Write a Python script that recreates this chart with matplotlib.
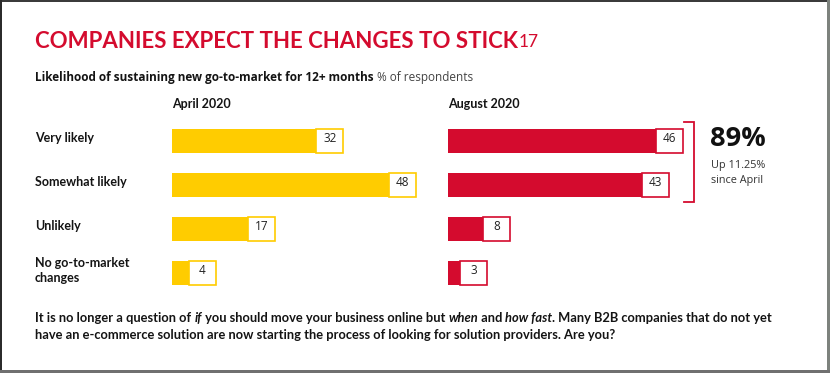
import matplotlib
matplotlib.use("Agg")
import matplotlib.pyplot as plt
from matplotlib.patches import Rectangle
from matplotlib.transforms import blended_transform_factory

categories = ["Very likely", "Somewhat likely", "Unlikely", "No go-to-market\nchanges"]
april = [32, 48, 17, 4]
august = [46, 43, 8, 3]
periods = ["April 2020", "August 2020"]

W, H = 830, 373
YELLOW = "#FFCC00"
RED = "#D40B2E"
DARK = "#141414"

fig = plt.figure(figsize=(W / 100, H / 100), dpi=100)
renderer = fig.canvas.get_renderer()


def px_box(x0, y0, x1, y1):
    return [x0 / W, 1 - y1 / H, (x1 - x0) / W, (y1 - y0) / H]


def ftext(x, y, s, **kw):
    return fig.text(x / W, 1 - y / H, s, **kw)


def rich(x, y, parts, size, target=None):
    # lay out text runs one after the other; optionally scale to a target width
    def place(sz):
        out, cx = [], x
        for s, kw in parts:
            t = ftext(cx, y, s, fontsize=sz, va="center", **kw)
            cx += t.get_window_extent(renderer=renderer).width
            out.append(t)
        return out, cx
    texts, end = place(size)
    if target:
        for t in texts:
            t.remove()
        texts, end = place(size * target / (end - x))
    return end


# frame of the screenshot
for (x0, y0, x1, y1, c) in [(0, 0, W, 2, "#3b3b3b"), (0, 0, 2, H, "#2b2b2b"),
                            (827, 0, W, H, "#7d827d"), (0, 370, W, H, "#707070")]:
    fig.add_artist(Rectangle((x0 / W, 1 - y1 / H), (x1 - x0) / W, (y1 - y0) / H,
                             transform=fig.transFigure, color=c, lw=0))

# title
title = ftext(35, 42, "COMPANIES EXPECT THE CHANGES TO STICK", color=RED, fontsize=16,
              fontweight="bold", va="center", family="Lato")
tw = title.get_window_extent(renderer=renderer).width
title.set_fontsize(16 * 484 / tw)
tend = title.get_window_extent(renderer=renderer).x1
ftext(tend + 1, 42, "17", color=RED, fontsize=12.5, va="center", family="Lato")

# subtitle
rich(35, 77, [("Likelihood of sustaining new go-to-market for 12+ months ",
               dict(fontweight="bold", color=DARK, family="Open Sans")),
              ("% of respondents", dict(color="#444444", family="Open Sans"))],
     8, target=439)

SCALE = 4.55     # pixels per percentage point
BOXW = 27 / SCALE
AXW = 250
lefts = [172, 448]
axes = []
for x0, vals, col, period in zip(lefts, [april, august], [YELLOW, RED], periods):
    ax = fig.add_axes(px_box(x0, 119, x0 + AXW, 295))
    ax.set_xlim(0, AXW / SCALE)
    ax.set_ylim(len(categories) - 0.5, -0.5)
    ax.axis("off")
    ypos = list(range(len(vals)))
    ax.barh(ypos, vals, height=0.545, color=col, lw=0)
    ax.barh(ypos, [BOXW] * len(vals), left=[v - 0.3 for v in vals], height=0.545,
            facecolor="white", edgecolor=col, lw=1.2)
    for y, v in zip(ypos, vals):
        ax.text(v - 0.3 + BOXW / 2, y - 0.05, str(v), ha="center", va="center",
                fontsize=8.5, color="#222222", family="Open Sans")
    ftext(x0, 104, period, fontsize=9, fontweight="bold", color=DARK,
          va="center", family="Lato")
    axes.append(ax)

# row labels
tr = blended_transform_factory(fig.transFigure, axes[0].transData)
for i, cat in enumerate(categories):
    fig.text(35 / W, i - 0.06, cat, transform=tr, fontsize=9, fontweight="bold",
             color=DARK, va="center", family="Lato", linespacing=1.35)

# bracket round the two "likely" rows of August
axr = axes[1]
bx0 = max(august[:2]) - 0.3 + BOXW + 0.3
bx1 = bx0 + 10 / SCALE
yt, yb = -0.43, 1.39
axr.plot([bx0, bx1, bx1, bx0], [yt, yt, yb, yb], color=RED, lw=1.3, clip_on=False,
         solid_joinstyle="miter")

total_aug = sum(august[:2])
total_apr = sum(april[:2])
ftext(710, 139, f"{total_aug}%", fontsize=19.5, fontweight="bold", color="#111111",
      va="center", family="Open Sans")
ftext(711, 165, f"Up {100 * (total_aug - total_apr) / total_apr:.2f}%", fontsize=7.8,
      color="#333333", va="center", family="Open Sans")
ftext(711, 181, "since April", fontsize=7.8, color="#333333", va="center",
      family="Open Sans")

# footer
b = dict(fontweight="bold", color=DARK, family="Lato")
bi = dict(fontweight="bold", style="italic", color=DARK, family="Lato")
rich(35, 318, [("It is no longer a question of ", b), ("if", bi),
               (" you should move your business online but ", b), ("when", bi),
               (" and ", b), ("how fast", bi),
               (". Many B2B companies that do not yet", b)], 8.3, target=735)
rich(35, 335, [("have an e-commerce solution are now starting the process of looking "
                "for solution providers. Are you?", b)], 8.3, target=582)

fig.savefig("out.png", dpi=100)
